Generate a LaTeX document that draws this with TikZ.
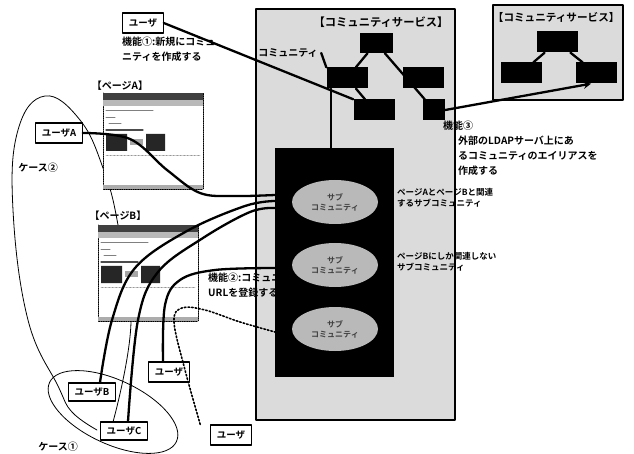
\documentclass[tikz,border=0pt]{standalone}
\usepackage{fontspec}
\setmainfont{Noto Sans CJK JP}[BoldFont={Noto Sans CJK JP Bold}]
\usetikzlibrary{positioning,shapes.geometric}
\tikzset{
  userbox/.style={draw, line width=1.2pt, fill=white, minimum height=20pt, inner xsep=6pt, font=\bfseries\fontsize{9.5}{11}\selectfont},
  commbox/.style={fill=black, minimum width=41pt, minimum height=21pt, inner sep=0pt},
  svcarea/.style={draw, line width=1.2pt, fill=gray!28},
  thickln/.style={line width=2.3pt},
  thinln/.style={line width=0.8pt},
  subcomm/.style={ellipse, fill=gray!55, minimum width=86pt, minimum height=44pt, align=center, text=black!75, font=\bfseries\fontsize{8}{10}\selectfont},
  memo/.style={anchor=north west, align=left, inner sep=0pt},
}
% ページの縮小画面
\newcommand{\pagethumb}[1]{%
  \begin{scope}[shift={#1}]
    \draw[densely dotted, line width=0.8pt, fill=white] (0,0) rectangle (100,96);
    \fill[black!75] (0,0) rectangle (100,7);
    \fill[gray!55] (0,7) rectangle (100,13);
    \draw[gray, line width=1pt] (3,18) -- (50,18) (3,25) -- (12,25) (6,31) -- (18,31);
    \draw[black!70, line width=1.2pt] (3,37) -- (40,37);
    \fill[black!85] (3,41) rectangle (24,58) (43,41) rectangle (62,58);
    \fill[gray!70] (27,46) rectangle (40,52);
    \draw[densely dotted, gray] (3,62) -- (97,62);
    \fill[gray!65] (0,92) rectangle (100,96);
  \end{scope}}

\begin{document}
\begin{tikzpicture}[x=1pt, y=-1pt, >=stealth, font=\bfseries\fontsize{10}{15}\selectfont, line join=round, line cap=round]
	\path[use as bounding box, fill=white] (0,0) rectangle (634,454);
	% コミュニティサービス
	\draw[svcarea] (256,9) rectangle (455,420);
	\node[anchor=east] (svct) at (452,22) {\fontsize{11.3}{13}\selectfont【コミュニティサービス】};
	\node[memo] (f2) at (208,273) {機能②:コミュニティに\\URLを登録する};
	\node[fill=black, anchor=north west, minimum width=119pt, minimum height=229pt] (blk) at (275,148) {};
	\node[subcomm] (sc1) at (335,202) {サブ\\コミュニティ};
	\node[subcomm] (sc2) at (335,265) {サブ\\コミュニティ};
	\node[subcomm] (sc3) at (335,329) {サブ\\コミュニティ};
	\node[memo, font=\bfseries\fontsize{8.5}{11}\selectfont] (l1) at (397,188) {ページAとページBと関連\\するサブコミュニティ};
	\node[memo, font=\bfseries\fontsize{8.5}{11}\selectfont] (l2) at (397,252) {ページBにしか関連しない\\サブコミュニティ};
	% ケース
	\draw[thinln] plot[smooth, tension=0.7] coordinates {(113,422) (131,322) (118,225) (103,168) (80,120) (45,96) (18,130) (13,210) (28,320) (58,386) (72,412) (97,430)};
	\node[draw, thinln, ellipse, rotate=-25, minimum width=140pt, minimum height=64pt] (case1) at (113,412) {};
	\node (case1l) at (58,447) {ケース①};
	\node (case2l) at (38,168) {ケース②};
	% ページ
	\pagethumb{(103,93)}
	\node (pA) at (120,86) {【ページA】};
	\pagethumb{(98,225)}
	\node (pB) at (118,216) {【ページB】};
	% ユーザ
	\node[userbox] (u0) at (143,23) {ユーザ};
	\node[userbox] (ua) at (59,133) {ユーザA};
	\node[userbox, minimum height=18pt] (ub) at (92,392) {ユーザB};
	\node[userbox, minimum height=18pt] (uc) at (124,431) {ユーザC};
	\node[userbox] (um) at (169,372) {ユーザ};
	\node[userbox] (ubot) at (231,435) {ユーザ};
	\coordinate (inA) at (275,195);
	\coordinate (inB) at (275,201);
	\coordinate (inC) at (275,208);
	\coordinate (inM) at (275,268);
	\coordinate (inD) at (275,332);
	\draw[thickln] plot[smooth, tension=0.6] coordinates {(ua.east) (130,139) (167,170) (200,193) (235,196) (inA)};
	\draw[thickln] plot[smooth, tension=0.6] coordinates {([xshift=8pt]ub.north) (112,320) (135,268) (187,231) (245,206) (inB)};
	\draw[thickln] plot[smooth, tension=0.6] coordinates {([xshift=4pt]uc.north) (138,320) (158,272) (203,238) (250,212) (inC)};
	\draw[thickln] plot[smooth, tension=0.6] coordinates {([xshift=-6pt]um.north) (165,305) (180,280) (215,270) (inM)};
	\draw[dotted, line width=1.6pt] plot[smooth, tension=0.6] coordinates {([xshift=-10pt]ubot.north west) (185,370) (174,322) (182,308) (205,310) (240,322) (inD)};
	% コミュニティ
	\node[commbox, minimum width=33pt, minimum height=20pt] (ctop) at (376,43) {};
	\node[commbox] (cleft) at (347,78) {};
	\node[commbox] (cright) at (423,78) {};
	\node[commbox] (cbl) at (374,110) {};
	\node[commbox, minimum width=22pt] (cbr) at (434,110) {};
	\draw[thickln] (ctop) -- (cleft) (ctop) -- (cbr) (cleft) -- (cbl);
	\node (clbl) at (288,53) {コミュニティ};
	\draw[thickln] (clbl.east) -- (cleft.north west);
	\draw[thickln] (cleft.south west) ++(5,0) coordinate (cv) -- (cv |- blk.north);
	\draw[thickln] (u0.east) -- (cbl.north west);
	\node[memo] (f1) at (122,37) {機能①:新規にコミュ\\ニティを作成する};
	% 外部のサービス
	\draw[svcarea] (493,5) rectangle (623,100);
	\node[anchor=east] (extt) at (623,17) {\fontsize{10.6}{12}\selectfont【コミュニティサービス】};
	\node[commbox] (etop) at (557,42) {};
	\node[commbox] (eleft) at (521,73) {};
	\node[commbox] (eright) at (596,73) {};
	\draw[thickln] (etop) -- (eleft) (etop) -- (eright);
	\draw[thickln, ->] (cbr.east) -- ([xshift=-5pt]eright.south);
	\node[memo] (f3) at (443,121) {機能③};
	\node[memo] (f3t) at (458,136) {外部のLDAPサーバ上にあ\\るコミュニティのエイリアスを\\作成する};
\end{tikzpicture}
\end{document}
